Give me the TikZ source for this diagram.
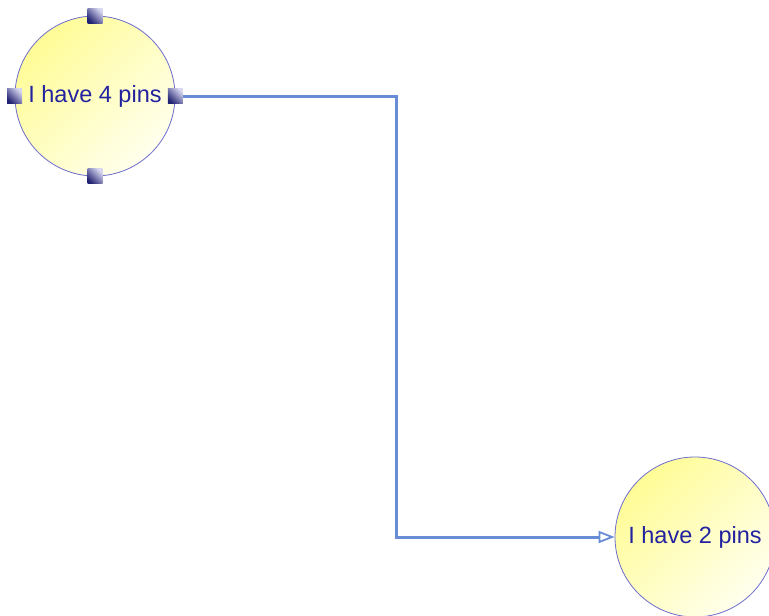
\documentclass[tikz,border=0pt]{standalone}
\usepackage{fontspec}
\setmainfont{Liberation Sans}
\usetikzlibrary{arrows.meta}

\definecolor{pinDark}{RGB}{35,35,115}
\definecolor{pinLight}{RGB}{215,215,240}
\definecolor{rimBlue}{RGB}{110,110,205}
\definecolor{labelBlue}{RGB}{35,35,160}
\definecolor{wireBlue}{RGB}{105,140,215}
\definecolor{sunYellow}{RGB}{255,252,150}
\definecolor{paleYellow}{RGB}{255,255,238}

\tikzset{
  roundnode/.style={circle, minimum size=160pt, inner sep=0pt,
    draw=rimBlue, line width=0.8pt,
    top color=sunYellow, bottom color=paleYellow, shading angle=45,
    text=labelBlue, font=\fontsize{23.5}{26}\selectfont},
  pinbox/.style={rectangle, minimum size=15pt, inner sep=0pt,
    top color=pinLight, bottom color=pinDark, shading angle=-45},
  wire/.style={draw=wireBlue, line width=3pt},
  opentip/.style={-{Triangle[open, length=16pt, width=12pt, line width=1.8pt]}}
}

\begin{document}
\begin{tikzpicture}[x=1pt, y=-1pt]
  \fill[white] (0,0) rectangle (769,616);
  \useasboundingbox (0,0) rectangle (769,616);

  % first node with its four pins
  \node[roundnode] (c1) at (95,96) {I have 4 pins};
  \node[pinbox] (p4n) at (c1.north) {};
  \node[pinbox] (p4s) at (c1.south) {};
  \node[pinbox] (p4w) at (c1.west) {};
  \node[pinbox] (p4e) at (c1.east) {};

  % second node
  \node[roundnode] (c2) at (695,537) {I have 2 pins};

  % orthogonal connector
  \coordinate (knee) at (396,537);
  \draw[wire, opentip] (p4e.east) -| (knee) -- (c2.west);
\end{tikzpicture}
\end{document}
